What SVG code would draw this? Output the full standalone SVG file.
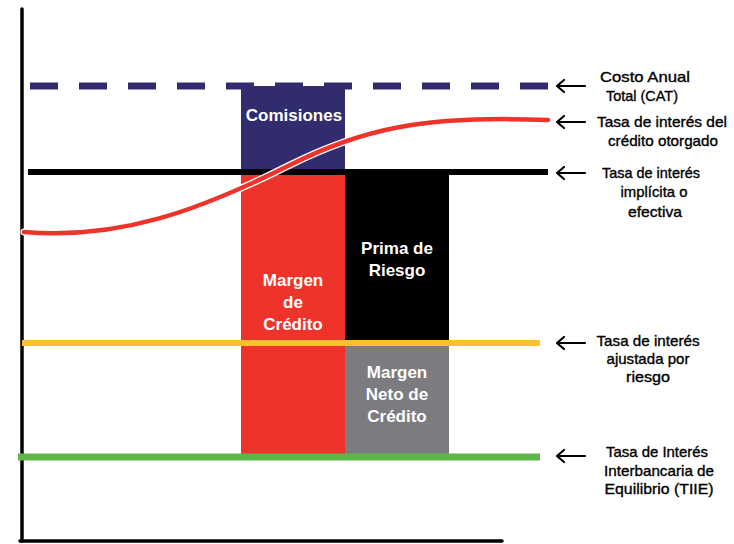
<svg xmlns="http://www.w3.org/2000/svg" width="734" height="544" viewBox="0 0 734 544">
<style>
.lbl{font-family:"Liberation Sans",Arial,sans-serif;font-size:15px;fill:#000;stroke:#000;stroke-width:0.35;text-anchor:middle}
.box{font-family:"Liberation Sans",Arial,sans-serif;font-size:17px;font-weight:bold;fill:#fff;text-anchor:middle}
.arr{stroke:#000;stroke-width:2.2;fill:none;stroke-linecap:round;stroke-linejoin:round}
</style>
<rect width="734" height="544" fill="#fff"/>
<g id="axes">
<line x1="22" y1="9" x2="22" y2="541" stroke="#000" stroke-width="3.5" stroke-linecap="round"/>
<line x1="20" y1="541" x2="502" y2="541" stroke="#000" stroke-width="3.5" stroke-linecap="round"/>
</g>
<g id="comisiones">
<rect x="241" y="86" width="104" height="84" fill="#312C6E"/>
<text class="box" x="294" y="121">Comisiones</text>
</g>
<g id="margen-credito">
<rect x="241" y="170" width="104" height="286" fill="#EE332B"/>
<text class="box" x="293" y="286">Margen</text>
<text class="box" x="293" y="308">de</text>
<text class="box" x="293" y="330">Crédito</text>
</g>
<g id="prima-riesgo">
<rect x="345" y="170" width="104" height="175" fill="#000"/>
<text class="box" x="397" y="254">Prima de</text>
<text class="box" x="397" y="276">Riesgo</text>
</g>
<g id="margen-neto">
<rect x="345" y="345" width="104" height="111" fill="#7B7B80"/>
<text class="box" x="397" y="378">Margen</text>
<text class="box" x="397" y="400">Neto de</text>
<text class="box" x="397" y="422">Crédito</text>
</g>
<g id="lines">
<line x1="30" y1="86" x2="548" y2="86" stroke="#312C6E" stroke-width="7" stroke-dasharray="28 21"/>
<line x1="28" y1="172" x2="548" y2="172" stroke="#000" stroke-width="6"/>
<line x1="22" y1="343" x2="540" y2="343" stroke="#FBC02D" stroke-width="6"/>
<line x1="18" y1="457" x2="540" y2="457" stroke="#5DB847" stroke-width="7"/>
<path d="M24,232 C120,240 200,210 290,165 C360,130 420,115 548,120" fill="none" stroke="#fff" stroke-width="7" stroke-linecap="round"/>
<path d="M24,232 C120,240 200,210 290,165 C360,130 420,115 548,120" fill="none" stroke="#EE332B" stroke-width="4.5" stroke-linecap="round"/>
</g>
<g id="connectors">
<path class="arr" d="M585,86 H557 M564,80 L557,86 L564,92"/>
<path class="arr" d="M585,122 H557 M564,116 L557,122 L564,128"/>
<path class="arr" d="M585,173 H557 M564,167 L557,173 L564,179"/>
<path class="arr" d="M585,343 H557 M564,337 L557,343 L564,349"/>
<path class="arr" d="M585,456 H557 M564,450 L557,456 L564,462"/>
</g>
<g id="label-cat">
<text class="lbl" x="645" y="82" textLength="90" lengthAdjust="spacingAndGlyphs">Costo  Anual</text>
<text class="lbl" x="642" y="101" textLength="72" lengthAdjust="spacingAndGlyphs">Total (CAT)</text>
</g>
<g id="label-credito">
<text class="lbl" x="662" y="127" textLength="130" lengthAdjust="spacingAndGlyphs">Tasa de interés del</text>
<text class="lbl" x="663" y="146" textLength="110" lengthAdjust="spacingAndGlyphs">crédito otorgado</text>
</g>
<g id="label-implicita">
<text class="lbl" x="651" y="178" textLength="98" lengthAdjust="spacingAndGlyphs">Tasa de interés</text>
<text class="lbl" x="654" y="197" textLength="67" lengthAdjust="spacingAndGlyphs">implícita o</text>
<text class="lbl" x="655" y="217" textLength="54" lengthAdjust="spacingAndGlyphs">efectiva</text>
</g>
<g id="label-ajustada">
<text class="lbl" x="648" y="346" textLength="103" lengthAdjust="spacingAndGlyphs">Tasa de interés</text>
<text class="lbl" x="648" y="364" textLength="83" lengthAdjust="spacingAndGlyphs">ajustada por</text>
<text class="lbl" x="648" y="382" textLength="44" lengthAdjust="spacingAndGlyphs">riesgo</text>
</g>
<g id="label-tiie">
<text class="lbl" x="657" y="457" textLength="102" lengthAdjust="spacingAndGlyphs">Tasa de Interés</text>
<text class="lbl" x="659" y="476" textLength="110" lengthAdjust="spacingAndGlyphs">Interbancaria de</text>
<text class="lbl" x="659" y="494" textLength="109" lengthAdjust="spacingAndGlyphs">Equilibrio (TIIE)</text>
</g>
</svg>
